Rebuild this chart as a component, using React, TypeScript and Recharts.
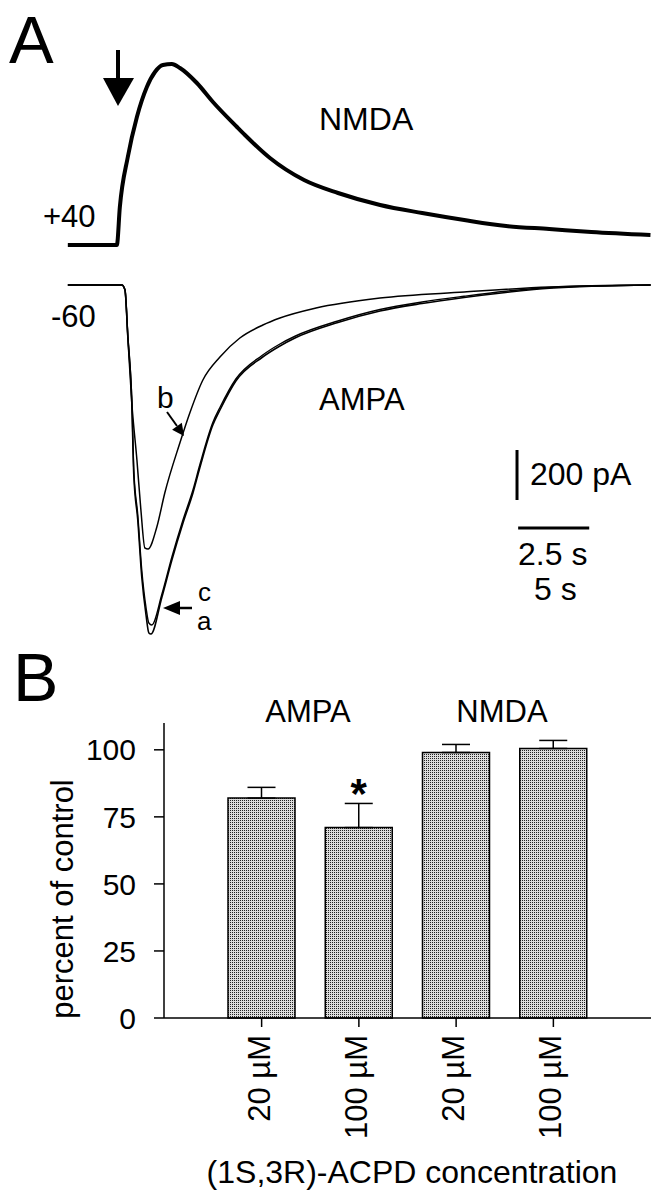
import {
  LineChart,
  Line,
  XAxis,
  YAxis,
  ReferenceLine,
  BarChart,
  Bar,
  ErrorBar,
  LabelList,
  Label,
} from 'recharts';

const FONT = '"Liberation Sans", Arial, Helvetica, sans-serif';

// Panel A, NMDA current at +40 mV (time s, current pA)
const nmdaTime = [-3.45, 0, 0.21, 0.77, 1.41, 2.11, 2.68, 3.24, 3.87, 4.44, 5.63, 6.76, 8.45, 9.01, 10.77, 13.17, 15.56, 18.52, 21.48, 24.44, 27.39, 30.42, 33.38, 37.54];
const nmdaCurrent = [0, 0, 152, 352, 512, 632, 692, 720, 724, 708, 648, 572, 472, 440, 348, 260, 208, 160, 128, 100, 76, 64, 52, 40];

// Panel A, AMPA currents at -60 mV, traces a, b, c
const ampaATime = [-1.9, 0, 0.11, 0.21, 0.35, 0.42, 0.56, 0.7, 0.85, 0.95, 1.02, 1.41, 1.76, 2.15, 2.5, 2.75, 3.2, 3.45, 4.01, 4.93, 5.56, 6.09, 7.6, 9.08, 10.56, 12.04, 13.5, 15.04, 18.6];
const ampaA = [0, 0, -20, -208, -472, -760, -940, -1168, -1320, -1392, -1396, -1248, -1100, -952, -832, -728, -560, -500, -384, -290, -244, -212, -150, -104, -74, -50, -30, -13, 0];

const ampaCTime = [-1.9, 0, 0.11, 0.21, 0.35, 0.42, 0.56, 0.7, 0.85, 0.95, 1.05, 1.41, 1.76, 2.15, 2.5, 2.75, 3.2, 3.45, 4.01, 4.93, 5.56, 6.09, 7.6, 9.08, 10.56, 12.04, 13.5, 15.04, 18.6];
const ampaC = [0, 0, -20, -200, -460, -740, -920, -1140, -1290, -1352, -1360, -1236, -1088, -940, -820, -716, -550, -490, -376, -282, -236, -205, -144, -98, -68, -45, -25, -10, 0];

const ampaBTime = [-1.9, 0, 0.11, 0.21, 0.35, 0.53, 0.67, 0.81, 0.92, 1.23, 1.51, 2.04, 2.39, 2.85, 3.45, 4.15, 4.96, 5.56, 6.83, 9.08, 12.04, 15.04, 18.6];
const ampaB = [0, 0, -20, -208, -472, -700, -900, -1052, -1056, -968, -832, -632, -512, -380, -288, -212, -160, -132, -92, -52, -28, -8, 0];

// scale bars
const scaleCurrent = 200; // pA
const scaleTime = 2.5; // s

// Panel B
const receptors = ['AMPA', 'AMPA', 'NMDA', 'NMDA'];
const concentrations = ['20 µM', '100 µM', '20 µM', '100 µM'];
const percentOfControl = [82, 71, 99, 100.5];
const semValues = [4, 9, 3, 3];
const significant = [false, true, false, false];
const yTicks = [0, 25, 50, 75, 100];

const toPoints = (t: number[], v: number[]) => t.map((time, i) => ({ time, current: v[i] }));

const nmdaData = toPoints(nmdaTime, nmdaCurrent);
const aData = toPoints(ampaATime, ampaA);
const bData = toPoints(ampaBTime, ampaB);
const cData = toPoints(ampaCTime, ampaC);

const barData = percentOfControl.map((pct, i) => ({
  id: `${receptors[i]}-${i}`,
  pct,
  err: [0, semValues[i]],
  sig: significant[i] ? 1 : 0,
}));

function ConcTick(props: any) {
  const { x, y, index } = props;
  return (
    <text
      x={0}
      y={0}
      transform={`translate(${x},${y}) rotate(-90)`}
      textAnchor="end"
      dy={8}
      fontSize={31}
      fontFamily={FONT}
      fill="#000"
    >
      {concentrations[index]}
    </text>
  );
}

function Star(props: any) {
  const { x, y, width, value } = props;
  if (!value) return null;
  return (
    <text x={x + width / 2} y={y - 20} textAnchor="middle" fontSize={42} fontWeight="bold" fontFamily={FONT} fill="#000">
      *
    </text>
  );
}

const xLabel = () => (
  <text x={412} y={543} textAnchor="middle" fontSize={32} fontFamily={FONT} fill="#000">
    (1S,3R)-ACPD concentration
  </text>
);

const yLabel = () => (
  <text x={73} y={259} transform="rotate(-90, 73, 259)" textAnchor="middle" fontSize={31} fontFamily={FONT} fill="#000">
    percent of control
  </text>
);

const txt = { fontFamily: FONT, fill: '#000' };

export default function App() {
  return (
    <div style={{ position: 'absolute', left: 0, top: 0, width: 662, height: 1199, background: '#fff' }}>
      <div style={{ position: 'absolute', left: 60, top: 40 }}>
        <LineChart width={597} height={220} margin={{ top: 0, right: 0, bottom: 0, left: 0 }}>
          <XAxis type="number" dataKey="time" domain={[-4, 38]} hide allowDataOverflow />
          <YAxis type="number" domain={[-60, 820]} hide allowDataOverflow />
          <Line data={nmdaData} dataKey="current" type="monotone" stroke="#000" strokeWidth={4} dot={false} isAnimationActive={false} />
        </LineChart>
      </div>

      <div style={{ position: 'absolute', left: 65, top: 270 }}>
        <LineChart width={597} height={380} margin={{ top: 0, right: 0, bottom: 0, left: 0 }}>
          <XAxis type="number" dataKey="time" domain={[-2, 19]} hide allowDataOverflow />
          <YAxis type="number" domain={[-1460, 60]} hide allowDataOverflow />
          <Line data={aData} dataKey="current" type="monotone" stroke="#000" strokeWidth={1.6} dot={false} isAnimationActive={false} />
          <Line data={cData} dataKey="current" type="monotone" stroke="#000" strokeWidth={1.4} dot={false} isAnimationActive={false} />
          <Line data={bData} dataKey="current" type="monotone" stroke="#000" strokeWidth={1.5} dot={false} isAnimationActive={false} />
          <ReferenceLine
            segment={[
              { x: 13.9, y: -660 },
              { x: 13.9, y: -660 - scaleCurrent },
            ]}
            stroke="#000"
            strokeWidth={3}
          />
          <ReferenceLine
            segment={[
              { x: 13.94, y: -972 },
              { x: 13.94 + scaleTime, y: -972 },
            ]}
            stroke="#000"
            strokeWidth={3}
          />
        </LineChart>
      </div>

      <div style={{ position: 'absolute', left: 0, top: 640 }}>
        <BarChart width={662} height={560} data={barData} margin={{ top: 83, right: 11, bottom: 0, left: 64 }} barSize={67}>
          <defs>
            <pattern id="stipple" width="2" height="2" patternUnits="userSpaceOnUse">
              <rect width="2" height="2" fill="#dcdcdc" />
              <rect width="1" height="1" fill="#222222" />
            </pattern>
          </defs>
          <XAxis
            dataKey="id"
            padding={{ left: 49, right: 49 }}
            height={182}
            interval={0}
            tickSize={9}
            tickMargin={8}
            tick={<ConcTick />}
            axisLine={{ stroke: '#000', strokeWidth: 1.5 }}
            tickLine={{ stroke: '#000', strokeWidth: 1.5 }}
          >
            <Label content={xLabel} />
          </XAxis>
          <YAxis
            domain={[0, 110]}
            ticks={yTicks}
            width={100}
            tickSize={10}
            tickMargin={18}
            tick={{ fontSize: 30, fontFamily: FONT, fill: '#000' }}
            axisLine={{ stroke: '#000', strokeWidth: 1.5 }}
            tickLine={{ stroke: '#000', strokeWidth: 1.5 }}
          >
            <Label content={yLabel} />
          </YAxis>
          <Bar dataKey="pct" fill="url(#stipple)" stroke="#000" strokeWidth={1.5} isAnimationActive={false}>
            <ErrorBar dataKey="err" width={14} stroke="#000" strokeWidth={1.5} direction="y" />
            <LabelList dataKey="sig" content={<Star />} />
          </Bar>
        </BarChart>
      </div>

      <svg width={662} height={1199} style={{ position: 'absolute', left: 0, top: 0, pointerEvents: 'none' }}>
        <text x={9} y={63} fontSize={67} {...txt}>A</text>
        <text x={13} y={701} fontSize={68} {...txt}>B</text>

        <line x1={118} y1={50} x2={118} y2={80} stroke="#000" strokeWidth={4} />
        <polygon points="103,78 134,78 118,106" fill="#000" />

        <text x={43} y={227} fontSize={31} {...txt}>+40</text>
        <text x={319} y={130} fontSize={32} {...txt}>NMDA</text>
        <text x={51} y={327} fontSize={31} {...txt}>-60</text>
        <text x={319} y={410} fontSize={31} {...txt}>AMPA</text>

        <text x={157} y={408} fontSize={30} {...txt}>b</text>
        <line x1={167} y1={412} x2={177} y2={426} stroke="#000" strokeWidth={2} />
        <polygon points="184,436 181.8,422.8 172.1,429.8" fill="#000" />

        <text x={198} y={601} fontSize={26} {...txt}>c</text>
        <text x={197} y={630} fontSize={26} {...txt}>a</text>
        <line x1={178} y1={608} x2={192} y2={608} stroke="#000" strokeWidth={2.5} />
        <polygon points="163,608 180,601 180,615" fill="#000" />

        <text x={530} y={485} fontSize={32} {...txt}>200 pA</text>
        <text x={518} y={565} fontSize={32} {...txt}>2.5 s</text>
        <text x={534} y={600} fontSize={32} {...txt}>5 s</text>

        <text x={308} y={722} fontSize={31} textAnchor="middle" {...txt}>AMPA</text>
        <text x={502} y={722} fontSize={31} textAnchor="middle" {...txt}>NMDA</text>
      </svg>
    </div>
  );
}
